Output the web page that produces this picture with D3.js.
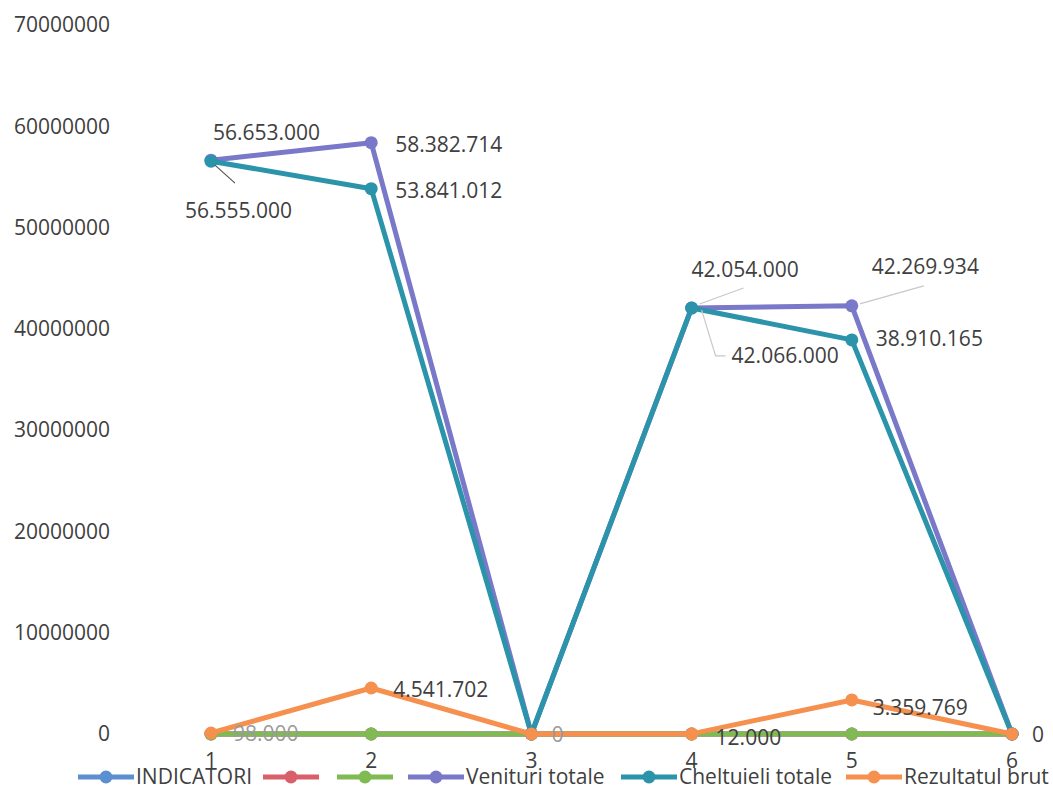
<!DOCTYPE html>
<html>
<head>
<meta charset="utf-8">
<script src="https://cdn.jsdelivr.net/npm/d3@7"></script>
<style>
  body { margin: 0; background: #fff; }
  svg text { font-family: "Open Sans", sans-serif; fill: #404040; }
</style>
</head>
<body>
<svg width="1053" height="791"></svg>
<script>
// categories on the x axis
const categories = [1, 2, 3, 4, 5, 6];
// y axis ticks
const yTicks = [0, 10000000, 20000000, 30000000, 40000000, 50000000, 60000000, 70000000];

// series values
const indicatori = [0, 0, 0, 0, 0, 0];
const serie2 = [0, 0, 0, 0, 0, 0];
const serie3 = [0, 0, 0, 0, 0, 0];
const venituri = [56653000, 58382714, 0, 42054000, 42269934, 0];
const cheltuieli = [56555000, 53841012, 0, 42066000, 38910165, 0];
const rezultat = [98000, 4541702, 0, 12000, 3359769, 0];

const seriesNames = ["INDICATORI", "", "", "Venituri totale", "Cheltuieli totale", "Rezultatul brut"];
const seriesColors = ["#5b8fcf", "#d9606a", "#7fba52", "#7a78c8", "#2b93aa", "#f5904f"];
const seriesData = [indicatori, serie2, serie3, venituri, cheltuieli, rezultat];

const svg = d3.select("svg");
const x = d3.scalePoint().domain(categories).range([211, 1012]);
const y = d3.scaleLinear().domain([0, 70000000]).range([734, 25]);

const fmt = v => d3.format(",")(v).replace(/,/g, ".");

// y axis labels (no line, no grid)
svg.append("g").selectAll("text")
  .data(yTicks).enter().append("text")
  .attr("x", 110).attr("y", d => y(d)).attr("dy", "0.35em")
  .attr("text-anchor", "end").attr("font-size", 21)
  .text(d => d);

// category labels
svg.append("g").selectAll("text")
  .data(categories).enter().append("text")
  .attr("x", d => x(d)).attr("y", 768)
  .attr("text-anchor", "middle").attr("font-size", 21)
  .text(d => d);

const line = d3.line().x((d, i) => x(categories[i])).y(d => y(d));

seriesData.forEach((vals, k) => {
  const g = svg.append("g");
  g.append("path").datum(vals)
    .attr("d", line)
    .attr("fill", "none")
    .attr("stroke", seriesColors[k])
    .attr("stroke-width", 5)
    .attr("stroke-linejoin", "round");
  g.selectAll("circle").data(vals).enter().append("circle")
    .attr("cx", (d, i) => x(categories[i])).attr("cy", d => y(d))
    .attr("r", 6.5).attr("fill", seriesColors[k]);
});

// data labels: [series index, point index, dx, dy, leader line points]
const labelSpots = [
  [3, 0, 2, -28, null],
  [3, 1, 24, 2, null],
  [4, 0, -26, 49, [[4, 4], [24, 22]]],
  [4, 1, 24, 2, null],
  [3, 3, 0, -38, [[8, -4], [52, -20]]],
  [3, 4, 20, -39, [[8, -2], [72, -20]]],
  [4, 3, 40, 48, [[10, 2], [24, 48], [34, 48]]],
  [4, 4, 24, -1, null],
  [5, 1, 22, 2, null],
  [5, 4, 21, 8, null],
  [5, 0, 22, 1, null],
  [5, 3, 24, 4, null],
  [5, 2, 20, 1, null],
  [5, 5, 20, 1, null]
];

const labels = svg.append("g");
labelSpots.forEach(([s, i, dx, dy, lead]) => {
  const px = x(categories[i]), py = y(seriesData[s][i]);
  if (lead) {
    labels.append("polyline")
      .attr("points", lead.map(p => (px + p[0]) + "," + (py + p[1])).join(" "))
      .attr("fill", "none")
      .attr("stroke", s === 4 && i === 0 ? "#555" : "#c8c8c8")
      .attr("stroke-width", 1.2);
  }
  labels.append("text")
    .attr("x", px + dx).attr("y", py + dy).attr("dy", "0.35em")
    .attr("font-size", 21)
    .style("fill", (s === 5 && (i === 0 || i === 2)) ? "#9a9a9a" : "#404040")
    .text(fmt(seriesData[s][i]));
});

// legend
const legendX = [78, 263, 337, 408, 621, 846];
const legend = svg.append("g");
seriesNames.forEach((name, k) => {
  const lx = legendX[k], ly = 777;
  legend.append("line")
    .attr("x1", lx).attr("x2", lx + 56).attr("y1", ly).attr("y2", ly)
    .attr("stroke", seriesColors[k]).attr("stroke-width", 5);
  legend.append("circle")
    .attr("cx", lx + 28).attr("cy", ly).attr("r", 6.5).attr("fill", seriesColors[k]);
  if (name) {
    legend.append("text")
      .attr("x", lx + 58).attr("y", ly).attr("dy", "0.35em")
      .attr("font-size", 21)
      .text(name);
  }
});
</script>
</body>
</html>
